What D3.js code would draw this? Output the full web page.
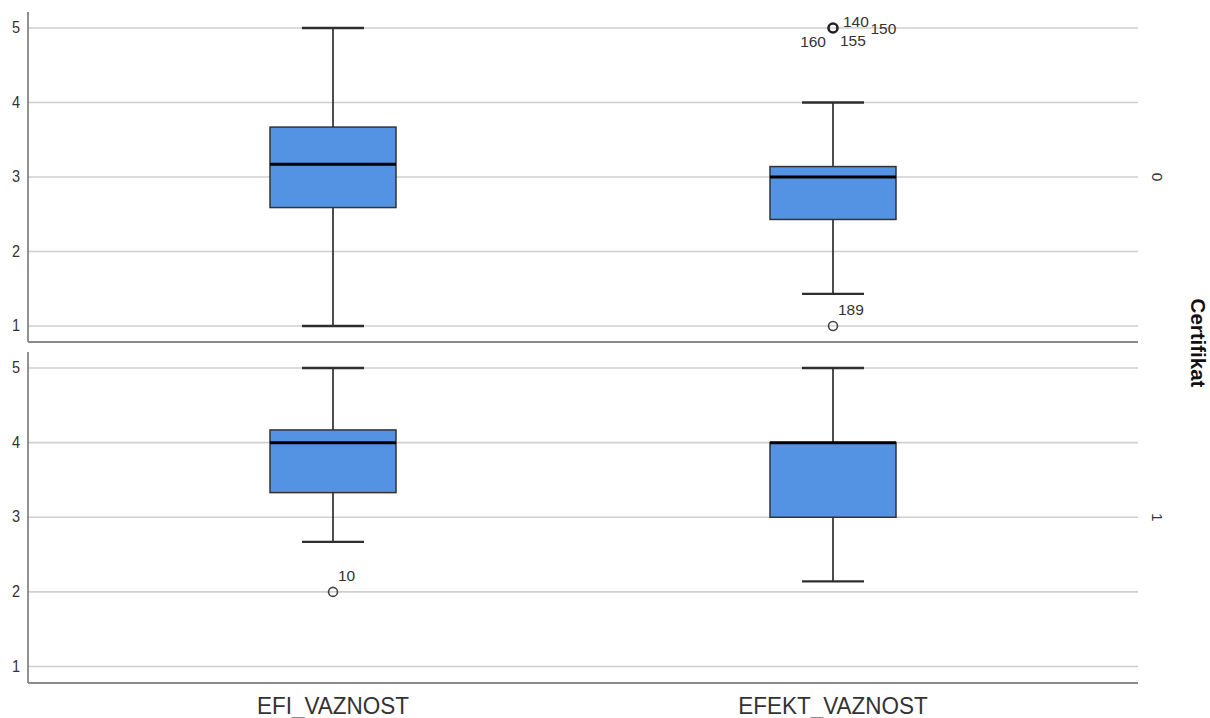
<!DOCTYPE html>
<html>
<head>
<meta charset="utf-8">
<script src="https://cdn.jsdelivr.net/npm/d3@7"></script>
<style>
  html, body { margin: 0; padding: 0; background: #fff; }
  svg { display: block; font-family: Arial, "Liberation Sans", sans-serif; }
</style>
</head>
<body>
<svg id="chart" width="1210" height="718"></svg>
<script>
// ---- data ----
const categories = ["EFI_VAZNOST", "EFEKT_VAZNOST"];
const panels = ["0", "1"];
const yTicks = [1, 2, 3, 4, 5];
const rowTitle = "Certifikat";

// box stats per panel: [panel][category]
const lowWhisker = [[1.0, 1.43], [2.67, 2.14]];
const q1Values   = [[2.59, 2.43], [3.33, 3.0]];
const medians    = [[3.17, 3.0], [4.0, 4.0]];
const q3Values   = [[3.67, 3.14], [4.17, 4.0]];
const highWhisker= [[5.0, 4.0], [5.0, 5.0]];

// outliers: panel, category index, value, label
const outlierPanel = [0, 0, 1];
const outlierCat   = [1, 1, 0];
const outlierValue = [5, 1, 2];
const outlierCount = [4, 1, 1];
const outlierLabels = [["140", "150", "160", "155"], ["189"], ["10"]];

// ---- layout ----
const svg = d3.select("#chart");
const left = 28, right = 1138;
const panelGeom = [
  { top: 12, bottom: 342, y1: 326, y5: 28 },
  { top: 352, bottom: 683, y1: 666.5, y5: 368 }
];
const x = d3.scalePoint().domain(categories).range([left, right]).padding(0.61);
const boxW = 126, capW = 62;
const fill = "#5493e3";

panelGeom.forEach((pg, pi) => {
  const y = d3.scaleLinear().domain([1, 5]).range([pg.y1, pg.y5]);
  const g = svg.append("g");

  // grid
  g.selectAll("line.grid").data(yTicks).join("line")
    .attr("x1", left).attr("x2", right)
    .attr("y1", d => y(d)).attr("y2", d => y(d))
    .attr("stroke", "#cfcfcf").attr("stroke-width", 1.6);

  // axis frame
  g.append("line").attr("x1", left).attr("x2", left).attr("y1", pg.top).attr("y2", pg.bottom)
    .attr("stroke", "#6e6e6e").attr("stroke-width", 1.5);
  g.append("line").attr("x1", left).attr("x2", right).attr("y1", pg.bottom).attr("y2", pg.bottom)
    .attr("stroke", "#8a8a8a").attr("stroke-width", 1.8);

  // y axis ticks
  const ax = g.append("g").attr("transform", `translate(${left},0)`)
    .call(d3.axisLeft(y).tickValues(yTicks).tickFormat(d3.format("d")).tickSize(0).tickPadding(8));
  ax.select(".domain").remove();
  ax.selectAll("text").attr("font-size", 14.5).attr("fill", "#333")
    .attr("font-family", "Arial, 'Liberation Sans', sans-serif")
    .attr("transform", "scale(1,1.12)").attr("dy", "0.28em");

  // boxes
  categories.forEach((c, ci) => {
    const cx = x(c);
    const lo = lowWhisker[pi][ci], hi = highWhisker[pi][ci];
    const q1 = q1Values[pi][ci], q3 = q3Values[pi][ci], md = medians[pi][ci];
    g.append("line").attr("x1", cx).attr("x2", cx).attr("y1", y(hi)).attr("y2", y(q3))
      .attr("stroke", "#2e2e2e").attr("stroke-width", 1.7);
    g.append("line").attr("x1", cx).attr("x2", cx).attr("y1", y(q1)).attr("y2", y(lo))
      .attr("stroke", "#2e2e2e").attr("stroke-width", 1.7);
    [lo, hi].forEach(v => {
      g.append("line").attr("x1", cx - capW / 2).attr("x2", cx + capW / 2)
        .attr("y1", y(v)).attr("y2", y(v))
        .attr("stroke", "#2e2e2e").attr("stroke-width", 2.3);
    });
    g.append("rect").attr("x", cx - boxW / 2).attr("width", boxW)
      .attr("y", y(q3)).attr("height", y(q1) - y(q3))
      .attr("fill", fill).attr("stroke", "#333").attr("stroke-width", 1.5);
    g.append("line").attr("x1", cx - boxW / 2).attr("x2", cx + boxW / 2)
      .attr("y1", y(md)).attr("y2", y(md))
      .attr("stroke", "#000").attr("stroke-width", 3);
  });

  // outliers
  outlierPanel.forEach((p, oi) => {
    if (p !== pi) return;
    const cx = x(categories[outlierCat[oi]]);
    const cy = y(outlierValue[oi]);
    const n = outlierCount[oi];
    g.append("circle").attr("cx", cx).attr("cy", cy).attr("r", 4.5)
      .attr("fill", "none").attr("stroke", n > 1 ? "#222" : "#444")
      .attr("stroke-width", n > 1 ? 2.6 : 1.6);
    const labs = outlierLabels[oi];
    const lab = (t, dx, dy, anchor) => g.append("text")
      .attr("x", cx + dx).attr("y", cy + dy).attr("text-anchor", anchor || "start")
      .attr("font-size", 15.5).attr("fill", "#333").text(t);
    if (n > 1) {
      lab(labs[0], 10, -1);
      lab(labs[1], 37.5, 5.5);
      lab(labs[2], -7, 19, "end");
      lab(labs[3], 7, 18);
    } else {
      lab(labs[0], 5, -11);
    }
  });

  // panel label on right
  const labelY = y(3);
  svg.append("text")
    .attr("transform", `translate(1152,${labelY}) rotate(90)`)
    .attr("text-anchor", "middle").attr("font-size", 15.5).attr("fill", "#333")
    .text(panels[pi]);
});

// category labels
svg.selectAll("text.cat").data(categories).join("text")
  .attr("class", "cat")
  .attr("transform", d => `translate(${x(d)},714) scale(1,1.1)`)
  .attr("text-anchor", "middle").attr("font-size", 22.5).attr("fill", "#333")
  .text(d => d);

// row title
svg.append("text")
  .attr("transform", `translate(1191,343) rotate(90)`)
  .attr("text-anchor", "middle").attr("font-size", 20.5).attr("font-weight", "bold")
  .attr("fill", "#111").text(rowTitle);
</script>
</body>
</html>
